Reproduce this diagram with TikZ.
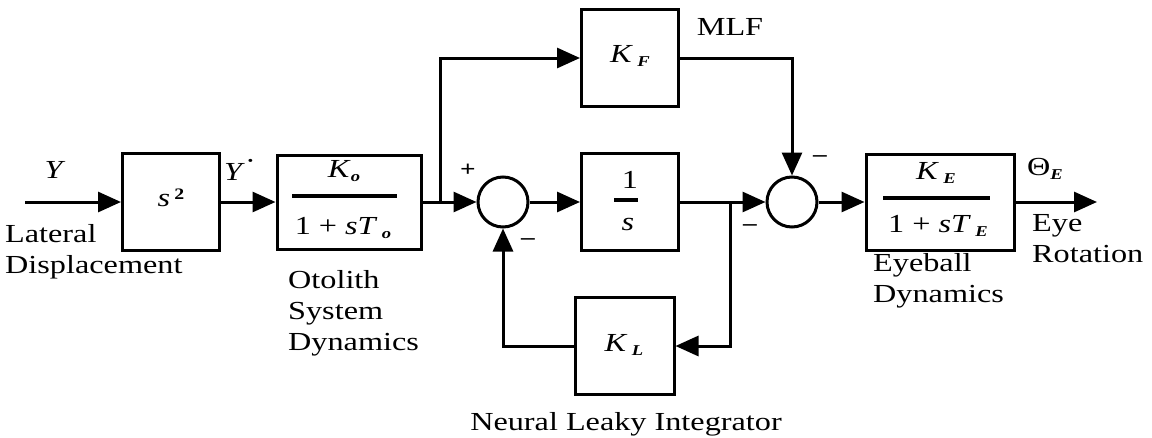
\documentclass[tikz,border=0pt]{standalone}
\usepackage{fontspec}
\setmainfont{Liberation Serif}[FakeStretch=1.24]
\usetikzlibrary{arrows.meta}
\newcommand{\Sb}[1]{\raisebox{-0.35ex}{\fontsize{15}{15}\selectfont\textbf{\textit{#1}}}}
\tikzset{
  blk/.style={draw, line width=3pt, inner sep=0pt, minimum width=97pt, minimum height=97pt},
  sumc/.style={draw, circle, line width=3pt, inner sep=0pt, minimum size=50pt},
  sig/.style={line width=3pt, -{Triangle[length=23pt,width=20pt]}},
  bar/.style={line width=3.5pt},
  mt/.style={inner sep=0pt, font=\fontsize{26}{26}\selectfont},
  lbl/.style={inner sep=0pt, align=left, anchor=base west, font=\fontsize{26}{31}\selectfont},
  sgn/.style={inner sep=0pt, font=\fontsize{22}{22}\selectfont\bfseries},
}
\begin{document}
\begin{tikzpicture}[x=1pt,y=-1pt]
\useasboundingbox (0,0) rectangle (1152,437);
% blocks
\node[blk] (s2) at (171,202) {};
\node[mt] (s2t) at (171,198) {\textit{s}\,\raisebox{0.6ex}{\fontsize{16}{16}\selectfont\textbf{2}}};
\node[blk, minimum width=144pt, minimum height=94pt] (oto) at (349,202) {};
\node[mt] (otoN) at (344,171) {\textit{K}\Sb{o}};
\draw[bar] (292,196) -- (397,196);
\node[mt] (otoD) at (343,228) {1 + \textit{sT}\,\Sb{o}};
\node[blk] (kf) at (630,58) {};
\node[mt] (kft) at (630,56) {\textit{K}\,\Sb{F}};
\node[blk] (int) at (630,202) {};
\node[mt] (intN) at (630,180) {1};
\draw[bar] (614,200) -- (638,200);
\node[mt] (intD) at (628,224) {\textit{s}};
\node[blk, minimum width=99pt] (kl) at (624.5,346) {};
\node[mt] (klt) at (624,345) {\textit{K}\,\Sb{L}};
\node[blk, minimum width=148pt, minimum height=96pt] (ke) at (940,202) {};
\node[mt] (keN) at (936,173) {\textit{K}\,\Sb{E}};
\draw[bar] (883,198) -- (990,198);
\node[mt] (keD) at (938,226) {1 + \textit{sT}\,\Sb{E}};
% summing junctions
\node[sumc] (c1) at (503,202) {};
\node[sumc] (c2) at (792,202) {};
% coordinates
\coordinate (in) at (25,202);
\coordinate (b1) at (440,202);
\coordinate (b2) at (730,202);
\coordinate (out) at (1097,202);
% connectors
\draw[sig] (in) -- (s2.west);
\draw[sig] (s2.east) -- (oto.west);
\draw[sig] (oto.east) -- (c1.west);
\draw[sig] (b1) |- (kf.west);
\draw[sig] (c1.east) -- (int.west);
\draw[sig] (int.east) -- (c2.west);
\draw[sig] (kf.east) -| (c2.north);
\draw[sig] (b2) |- (kl.east);
\draw[sig] (kl.west) -| (c1.south);
\draw[sig] (c2.east) -- (ke.west);
\draw[sig] (ke.east) -- (out);
% signal labels
\node[mt] (ylab) at (55,170) {\textit{Y}};
\node[mt] (ydlab) at (240,170) {\textit{Y}\raisebox{0.4em}{·}};
\node[mt] (mlf) at (730,27) {MLF};
\node[mt] (th) at (1045,169) {Θ\Sb{E}};
% signs
\node[sgn] (p1) at (468,170) {+};
\node[sgn] (m1) at (528,242) {–};
\node[sgn] (m2) at (820,159) {–};
\node[sgn] (m3) at (750,228) {–};
% descriptive labels
\node[lbl] (lat) at (5,273) {Lateral\\Displacement};
\node[lbl] (otl) at (288,350) {Otolith\\System\\Dynamics};
\node[lbl] (eyb) at (873,302) {Eyeball\\Dynamics};
\node[lbl] (eyr) at (1032,262) {Eye\\Rotation};
\node[inner sep=0pt, anchor=base, font=\fontsize{26}{31}\selectfont] (nli) at (626,430) {Neural Leaky Integrator};
\end{tikzpicture}
\end{document}
